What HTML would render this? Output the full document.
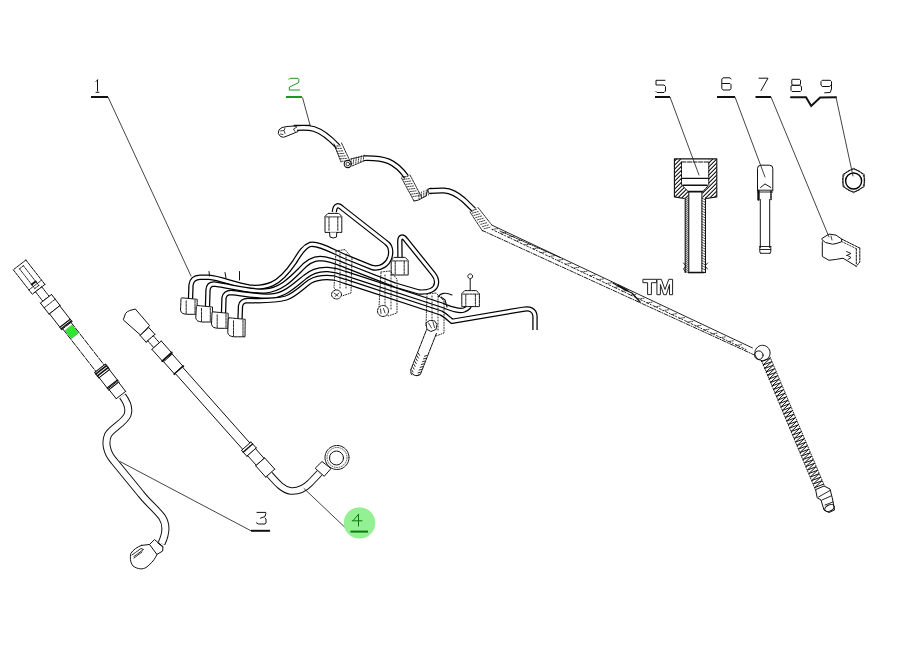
<!DOCTYPE html>
<html><head><meta charset="utf-8"><title>Parts diagram</title>
<style>
html,body{margin:0;padding:0;background:#fff;width:897px;height:672px;overflow:hidden;font-family:"Liberation Sans",sans-serif;}
svg{display:block;}
</style></head><body>
<svg width="897" height="672" viewBox="0 0 897 672">
<rect width="897" height="672" fill="#fff"/>
<g id="parts" fill="none" stroke="#111" stroke-width="1" stroke-linejoin="round" stroke-linecap="round">
<path d="M297.5,125.8 L287,126.5 L282,127.5 L279,129.8 L278.3,133.5 L280.5,136.5 L283.5,137.3 L287,136 L292,134 L298,131.5" stroke="#111"/>
<path d="M280.5,131 L283.5,130.5 M280.5,134 L283,134.5 M285,128 L284,130.5 L285,133.5" stroke="#111" stroke-width="0.8"/>
<path d="M294.3,125.6 L309.9,125.6" stroke="#111" stroke-width="1.6"/>
<path d="M297,127 L293.5,129 L295,131.5" stroke="#111" stroke-width="0.8"/>
<path d="M297,128 C303,127.6 309,127.5 314,129 C322,131.5 330,138 338,146.5" stroke="#000" stroke-width="5.8" fill="none" stroke-linecap="butt" stroke-linejoin="round"/>
<path d="M297,128 C303,127.6 309,127.5 314,129 C322,131.5 330,138 338,146.5" stroke="#fff" stroke-width="3.4" fill="none" stroke-linecap="butt" stroke-linejoin="round"/>
<path d="M334.3,146.2 L340.7,145.8 M335.5,148.7 L341.9,148.3 M336.7,151.3 L343.2,150.8 M337.9,153.8 L344.4,153.3 M339.2,156.3 L345.6,155.8 M340.4,158.8 L346.8,158.4 M341.6,161.3 L348.1,160.9" stroke="#111" stroke-width="0.8" fill="none" stroke-dasharray="1.2 1.2"/>
<path d="M334,144 L341,162 M341.5,143 L349.5,160" stroke="#111" stroke-width="0.9" stroke-dasharray="2 1"/>
<circle cx="347.8" cy="164" r="3.6" stroke="#111" stroke-width="1.1" fill="#fff"/>
<circle cx="347.8" cy="164" r="1.8" stroke="#111" stroke-width="0.8" fill="none"/>
<path d="M350.7,164.4 L351.3,158.6 M353.2,163.8 L353.9,157.9 M355.7,163.1 L356.4,157.2 M358.2,162.4 L358.9,156.5 M360.7,161.7 L361.4,155.9 M363.2,161.1 L363.9,155.2" stroke="#111" stroke-width="0.8" fill="none" stroke-dasharray="1.2 1.2"/>
<path d="M351,159 L364.5,155.8 M352,166 L364.5,160.7" stroke="#111" stroke-width="0.9" stroke-dasharray="2 1"/>
<path d="M364,158.2 C372,158 380,157.8 388.5,161.3 C396,164.5 401.5,170 406.5,177" stroke="#000" stroke-width="5.8" fill="none" stroke-linecap="butt" stroke-linejoin="round"/>
<path d="M364,158.2 C372,158 380,157.8 388.5,161.3 C396,164.5 401.5,170 406.5,177" stroke="#fff" stroke-width="3.4" fill="none" stroke-linecap="butt" stroke-linejoin="round"/>
<path d="M402.0,176.9 L409.0,176.1 M403.4,179.4 L410.3,178.5 M404.8,181.8 L411.7,180.9 M406.1,184.3 L413.1,183.4 M407.5,186.7 L414.4,185.8 M408.9,189.2 L415.8,188.3 M410.2,191.6 L417.2,190.7 M411.6,194.1 L418.5,193.2 M412.9,196.5 L419.9,195.6" stroke="#111" stroke-width="0.8" fill="none" stroke-dasharray="1.2 1.2"/>
<path d="M401.5,178 L414,201 M410,175 L421.5,197" stroke="#111" stroke-width="0.9" stroke-dasharray="2 1"/>
<path d="M414,201 L418.5,200 L426,196 L428,189" stroke="#111" stroke-width="1"/>
<path d="M419.0,199.0 L419.0,193.0 M421.4,198.0 L421.4,192.0 M423.8,197.0 L423.8,191.0 M426.2,196.0 L426.2,190.0 M428.6,195.0 L428.6,189.0 M431.0,194.0 L431.0,188.0" stroke="#111" stroke-width="0.8" fill="none" stroke-dasharray="1.2 1.2"/>
<path d="M429,191 C435,190.6 440,190.4 444,190.5 C452,191 458,195 463.5,199.8 C467,203 470.5,206.5 474,210" stroke="#000" stroke-width="5.8" fill="none" stroke-linecap="butt" stroke-linejoin="round"/>
<path d="M429,191 C435,190.6 440,190.4 444,190.5 C452,191 458,195 463.5,199.8 C467,203 470.5,206.5 474,210" stroke="#fff" stroke-width="3.4" fill="none" stroke-linecap="butt" stroke-linejoin="round"/>
<path d="M470.6,210.9 L477.4,209.1 M472.3,213.2 L479.1,211.3 M474.0,215.4 L480.8,213.5 M475.7,217.6 L482.4,215.8 M477.4,219.9 L484.1,218.0 M479.1,222.1 L485.8,220.2 M480.8,224.3 L487.5,222.5 M482.5,226.6 L489.2,224.7 M484.1,228.8 L490.9,226.9" stroke="#111" stroke-width="0.8" fill="none" stroke-dasharray="1.2 1.2"/>
<path d="M470,212 L482.5,231 M478,207.5 L491.8,225" stroke="#111" stroke-width="0.9" stroke-dasharray="2 1"/>
<path d="M491.8,225.1 L752.4,347.9" stroke="#1a1a1a" stroke-width="0.95"/>
<path d="M482.4,230.5 L753.5,354.6" stroke="#111" stroke-width="0.95" stroke-dasharray="4 1.5 1 1.5"/>
<path d="M492.3,229.4 L497.7,228.6 M500.5,233.3 L505.8,232.5 M508.6,237.1 L513.9,236.3 M516.7,241.0 L522.1,240.2 M524.8,244.9 L530.2,244.1 M533.0,248.7 L538.3,248.0 M541.1,252.6 L546.4,251.8 M549.2,256.5 L554.6,255.7 M557.3,260.3 L562.7,259.6 M565.5,264.2 L570.8,263.4 M573.6,268.1 L578.9,267.3 M581.7,271.9 L587.1,271.2 M589.8,275.8 L595.2,275.0 M598.0,279.7 L603.3,278.9 M606.1,283.5 L611.4,282.8 M614.2,287.4 L619.6,286.6 M622.3,291.3 L627.7,290.5 M630.5,295.1 L635.8,294.4 M638.6,299.0 L644.0,298.2 M646.7,302.9 L652.1,302.1 M654.9,306.8 L660.2,306.0 M663.0,310.6 L668.3,309.8 M671.1,314.5 L676.5,313.7 M679.2,318.4 L684.6,317.6 M687.4,322.2 L692.7,321.4 M695.5,326.1 L700.8,325.3 M703.6,330.0 L709.0,329.2 M711.7,333.8 L717.1,333.1 M719.9,337.7 L725.2,336.9 M728.0,341.6 L733.3,340.8 M736.1,345.4 L741.5,344.7" stroke="#111" stroke-width="0.8" fill="none" stroke-dasharray="1 1.2"/>
<path d="M492,229.5 L748,350.5" stroke="#111" stroke-width="0.9" stroke-dasharray="1 2.2 2 1.8"/>
<path d="M500,231 L560,257.5" stroke="#111" stroke-width="0.9" stroke-dasharray="1.5 1"/>
<path d="M613,283 L625,290 L632,293 L640,302 M618,285 L628,290.5" stroke="#111" stroke-width="1.2"/>
<circle cx="762.5" cy="352.9" r="7.6" stroke="#111" stroke-width="1" fill="#fff" stroke-dasharray="2 0.8"/>
<circle cx="758.8" cy="355.2" r="4.3" stroke="#111" stroke-width="1" fill="none"/>
<path d="M761.4,361.6 L770.3,358.2 L762.9,365.1 L771.8,361.7 L764.4,368.6 L773.3,365.2 L765.9,372.1 L774.7,368.7 L767.4,375.6 L776.2,372.2 L768.8,379.1 L777.7,375.7 L770.3,382.6 L779.2,379.2 L771.8,386.1 L780.7,382.7 L773.3,389.6 L782.1,386.2 L774.7,393.1 L783.6,389.7 L776.2,396.6 L785.1,393.2 L777.7,400.1 L786.6,396.7 L779.2,403.6 L788.0,400.2 L780.7,407.1 L789.5,403.7 L782.1,410.6 L791.0,407.2 L783.6,414.1 L792.5,410.7 L785.1,417.6 L794.0,414.2 L786.6,421.1 L795.4,417.7 L788.1,424.6 L796.9,421.2 L789.5,428.1 L798.4,424.7 L791.0,431.6 L799.9,428.2 L792.5,435.1 L801.4,431.7 L794.0,438.6 L802.8,435.2 L795.4,442.1 L804.3,438.7 L796.9,445.6 L805.8,442.2 L798.4,449.1 L807.3,445.7 L799.9,452.6 L808.8,449.2 L801.4,456.1 L810.2,452.7 L802.8,459.6 L811.7,456.2 L804.3,463.1 L813.2,459.7 L805.8,466.6 L814.7,463.2 L807.3,470.1 L816.1,466.7 L808.8,473.6 L817.6,470.2 L810.2,477.1 L819.1,473.7 L811.7,480.6 L820.6,477.2 L813.2,484.1 L822.1,480.7 L814.7,487.6 L823.5,484.2" stroke="#111" stroke-width="1.0" fill="none"/>
<path d="M761.5,360.5 L815.5,490 M770,357 L824.5,486" stroke="#111" stroke-width="0.9" stroke-dasharray="1 1.5"/>
<path d="M816,489.5 L824,486 L830,489 L832.5,499 L834.5,510 L829,512.5 L824,510 L821,500 L817.5,498 Z" stroke="#111" stroke-width="1" fill="#fff"/>
<path d="M818.5,497 L830,490.5 M822,500 L831,496 M825,505 L833,502" stroke="#111" stroke-width="0.9"/>
<ellipse cx="829.5" cy="508" rx="5" ry="3" transform="rotate(-25 829.5 508)" stroke="#111" stroke-width="1" fill="none"/>
<path d="M643.3,279.3 L656.6,279.3 L656.6,282.7 L651.4,282.7 L651.4,294.6 L647.6,294.6 L647.6,282.7 L643.3,282.7 Z" stroke="#222" stroke-width="1" fill="#fff" stroke-linejoin="miter"/>
<path d="M657.3,279.3 L661.3,279.3 L665,289.5 L668.8,279.3 L672.6,279.3 L672.6,294.7 L669.5,294.7 L669.5,284.5 L666.3,294.7 L663.7,294.7 L660.4,284.5 L660.4,294.7 L657.3,294.7 Z" stroke="#222" stroke-width="1" fill="#fff" stroke-linejoin="miter"/>
<clipPath id="c37"><polygon points="674.4,158.9 681.5,158.9 681.5,184.8 688.7,192 688.7,198.2 684.2,198.2 674.4,196.9"/></clipPath>
<path d="M579.5,200.2 L622.8,156.9 M583.5,200.2 L626.8,156.9 M587.5,200.2 L630.8,156.9 M591.5,200.2 L634.8,156.9 M595.5,200.2 L638.8,156.9 M599.5,200.2 L642.8,156.9 M603.5,200.2 L646.8,156.9 M607.5,200.2 L650.8,156.9 M611.5,200.2 L654.8,156.9 M615.5,200.2 L658.8,156.9 M619.5,200.2 L662.8,156.9 M623.5,200.2 L666.8,156.9 M627.5,200.2 L670.8,156.9 M631.5,200.2 L674.8,156.9 M635.5,200.2 L678.8,156.9 M639.5,200.2 L682.8,156.9 M643.5,200.2 L686.8,156.9 M647.5,200.2 L690.8,156.9 M651.5,200.2 L694.8,156.9 M655.5,200.2 L698.8,156.9 M659.5,200.2 L702.8,156.9 M663.5,200.2 L706.8,156.9 M667.5,200.2 L710.8,156.9 M671.5,200.2 L714.8,156.9 M675.5,200.2 L718.8,156.9 M679.5,200.2 L722.8,156.9 M683.5,200.2 L726.8,156.9 M687.5,200.2 L730.8,156.9 M691.5,200.2 L734.8,156.9 M695.5,200.2 L738.8,156.9" clip-path="url(#c37)" stroke="#111" stroke-width="1.1" fill="none"/>
<clipPath id="c39"><polygon points="708.75,158.9 716.8,158.9 716.8,196.9 706.5,198.2 702.5,198.2 702.5,192 708.75,184.8"/></clipPath>
<path d="M607.6,200.2 L650.9,156.9 M611.6,200.2 L654.9,156.9 M615.6,200.2 L658.9,156.9 M619.6,200.2 L662.9,156.9 M623.6,200.2 L666.9,156.9 M627.6,200.2 L670.9,156.9 M631.6,200.2 L674.9,156.9 M635.6,200.2 L678.9,156.9 M639.6,200.2 L682.9,156.9 M643.6,200.2 L686.9,156.9 M647.6,200.2 L690.9,156.9 M651.6,200.2 L694.9,156.9 M655.6,200.2 L698.9,156.9 M659.6,200.2 L702.9,156.9 M663.6,200.2 L706.9,156.9 M667.6,200.2 L710.9,156.9 M671.6,200.2 L714.9,156.9 M675.6,200.2 L718.9,156.9 M679.6,200.2 L722.9,156.9 M683.6,200.2 L726.9,156.9 M687.6,200.2 L730.9,156.9 M691.6,200.2 L734.9,156.9 M695.6,200.2 L738.9,156.9 M699.6,200.2 L742.9,156.9 M703.6,200.2 L746.9,156.9 M707.6,200.2 L750.9,156.9 M711.6,200.2 L754.9,156.9 M715.6,200.2 L758.9,156.9 M719.6,200.2 L762.9,156.9 M723.6,200.2 L766.9,156.9" clip-path="url(#c39)" stroke="#111" stroke-width="1.1" fill="none"/>
<path d="M674.4,158.9 L716.8,158.9 L716.8,196.9 L706.5,198.5 M674.4,158.9 L674.4,196.9 L684.2,198.5" stroke="#111" stroke-width="1.1" fill="none"/>
<path d="M682,162 L708.75,162" stroke="#111" stroke-width="1" stroke-dasharray="4 1.5"/>
<path d="M681.5,162 L681.5,184.8 L688.7,192 M708.75,162 L708.75,184.8 L702.5,192" stroke="#111" stroke-width="1" stroke-dasharray="3 1"/>
<path d="M682,178.4 L708.5,178.4" stroke="#111" stroke-width="1.1"/>
<path d="M682.9,185.3 L707,185.3" stroke="#111" stroke-width="1.6"/>
<path d="M688.7,191.6 L702.5,191.6" stroke="#111" stroke-width="1.6"/>
<path d="M685.2,198 L685.2,272.6 M688.8,192 L688.8,272.6 L701.9,272.6 L701.9,192 M705.5,198 L705.5,272.6" stroke="#111" stroke-width="1"/>
<path d="M685.2,199.9 L688.8,198.1 M685.2,201.9 L688.8,200.1 M685.2,203.9 L688.8,202.1 M685.2,205.9 L688.8,204.1 M685.2,207.9 L688.8,206.1 M685.2,209.9 L688.8,208.1 M685.2,211.9 L688.8,210.1 M685.2,213.9 L688.8,212.1 M685.2,215.9 L688.8,214.1 M685.2,217.9 L688.8,216.1 M685.2,219.9 L688.8,218.1 M685.2,221.9 L688.8,220.1 M685.2,223.9 L688.8,222.1 M685.2,225.9 L688.8,224.1 M685.2,227.9 L688.8,226.1 M685.2,229.9 L688.8,228.1 M685.2,231.9 L688.8,230.1 M685.2,233.9 L688.8,232.1 M685.2,235.9 L688.8,234.1 M685.2,237.9 L688.8,236.1 M685.2,239.9 L688.8,238.1 M685.2,241.9 L688.8,240.1 M685.2,243.9 L688.8,242.1 M685.2,245.9 L688.8,244.1 M685.2,247.9 L688.8,246.1 M685.2,249.9 L688.8,248.1 M685.2,251.9 L688.8,250.1 M685.2,253.9 L688.8,252.1 M685.2,255.9 L688.8,254.1 M685.2,257.9 L688.8,256.1 M685.2,259.9 L688.8,258.1 M685.2,261.9 L688.8,260.1 M685.2,263.9 L688.8,262.1 M685.2,265.9 L688.8,264.1 M685.2,267.9 L688.8,266.1 M685.2,269.9 L688.8,268.1 M685.2,271.9 L688.8,270.1" stroke="#111" stroke-width="0.8" fill="none"/>
<path d="M701.9,198.1 L705.5,199.9 M701.9,200.7 L705.5,202.5 M701.9,203.3 L705.5,205.1 M701.9,205.9 L705.5,207.7 M701.9,208.5 L705.5,210.3 M701.9,211.1 L705.5,212.9 M701.9,213.7 L705.5,215.5 M701.9,216.3 L705.5,218.1 M701.9,218.9 L705.5,220.7 M701.9,221.5 L705.5,223.3 M701.9,224.1 L705.5,225.9 M701.9,226.7 L705.5,228.5 M701.9,229.3 L705.5,231.1 M701.9,231.9 L705.5,233.7 M701.9,234.5 L705.5,236.3 M701.9,237.1 L705.5,238.9 M701.9,239.7 L705.5,241.5 M701.9,242.3 L705.5,244.1 M701.9,244.9 L705.5,246.7 M701.9,247.5 L705.5,249.3 M701.9,250.1 L705.5,251.9 M701.9,252.7 L705.5,254.5 M701.9,255.3 L705.5,257.1 M701.9,257.9 L705.5,259.7 M701.9,260.5 L705.5,262.3 M701.9,263.1 L705.5,264.9 M701.9,265.7 L705.5,267.5 M701.9,268.3 L705.5,270.1" stroke="#111" stroke-width="0.8" fill="none" stroke-dasharray="1.5 1"/>
<path d="M683.5,263 L686,266 L683.5,269 L686,272.6 M707.5,263 L705,266 L707.5,269" stroke="#111" stroke-width="0.9"/>
<path d="M688.2,272.6 L704.3,272.6" stroke="#111" stroke-width="1.5"/>
<path d="M757.5,190.2 L757.5,168.5 Q757.5,165.2 761,165.2 L769.5,165.2 Q772.8,165.2 772.8,168.5 L772.8,190.2" stroke="#111" stroke-width="1" fill="none"/>
<path d="M760.6,187.5 L765,183.9 L770.8,187.5" stroke="#111" stroke-width="1"/>
<path d="M757.5,190.2 L772.8,190.2 M757.5,192 L772.8,192" stroke="#111" stroke-width="0.9"/>
<path d="M758.5,191 L758.5,199.5" stroke="#111" stroke-width="2.4"/>
<path d="M771,191 L771,199.5" stroke="#111" stroke-width="1.6" stroke-dasharray="1.5 1"/>
<path d="M760.3,199.5 L760.3,247.5 M769.7,199.5 L769.7,247.5" stroke="#111" stroke-width="1"/>
<path d="M759.8,246.5 L770.8,246.5 M759.8,249.5 L770.8,249.5 M760.5,253.3 L770,253.3 M759.8,246.5 L759.8,252 Q760,253.3 761,253.3 M770.8,246.5 L770.8,252 Q770.5,253.3 769.5,253.3" stroke="#111" stroke-width="0.9"/>
<polygon points="864.2,186.6 853.6,192.7 843.0,186.6 843.0,174.4 853.6,168.3 864.2,174.4" stroke="#111" stroke-width="1" fill="none" stroke-linejoin="round" stroke-dasharray="3 0.8"/>
<circle cx="853.6" cy="180.5" r="11" stroke="#111" stroke-width="0.9" fill="none" stroke-dasharray="2 1.5"/>
<circle cx="853.6" cy="181" r="8" stroke="#000" stroke-width="1.4" fill="none"/>
<path d="M822.3,238.3 L829,234.1 L836,235.1 L841.6,239 L841.6,241.8 L836,243.6 L832.5,244.2 L825.5,242.5 L822.3,240 Z" stroke="#111" stroke-width="1" fill="none"/>
<path d="M822.3,241.8 L822.3,256.5 L829,260.3 L836.7,259.3 L843,258.2 L856.3,266.3" stroke="#111" stroke-width="1"/>
<path d="M841.6,239 L859.8,248.1" stroke="#111" stroke-width="1" stroke-dasharray="2 1"/>
<path d="M841.6,241.5 L857,249" stroke="#111" stroke-width="0.8" stroke-dasharray="1.5 1.5"/>
<path d="M856.3,249 L856.3,264 M859.8,248.1 L859.8,262 L856.3,266.3" stroke="#111" stroke-width="1" stroke-dasharray="2 1.2"/>
<path d="M846.5,251.5 L851,253.5 L846.5,255.5 M847.5,255.5 L851,257.5 L848,259.5" stroke="#111" stroke-width="0.9"/>
<path d="M831,236 L832,240" stroke="#111" stroke-width="0.8"/>
<path d="M190.5,299 L191,285 Q192,277.5 200,277.3 L209,277.3 C220,278 235,285 249,287 C258,288 265,287 272,284 C281,280 287,273 294.5,262 C299,255 303,247 310,244.5 C318,243 330,250 345,256.6 L372,267.5 C381,269.5 388,264 390,257 C391.5,251 391,246 386,242.5 L342,208 C339,205 335,204 334.3,212" stroke="#000" stroke-width="5.4" fill="none" stroke-linecap="butt" stroke-linejoin="round"/>
<path d="M190.5,299 L191,285 Q192,277.5 200,277.3 L209,277.3 C220,278 235,285 249,287 C258,288 265,287 272,284 C281,280 287,273 294.5,262 C299,255 303,247 310,244.5 C318,243 330,250 345,256.6 L372,267.5 C381,269.5 388,264 390,257 C391.5,251 391,246 386,242.5 L342,208 C339,205 335,204 334.3,212" stroke="#fff" stroke-width="2.9000000000000004" fill="none" stroke-linecap="butt" stroke-linejoin="round"/>
<path d="M207.5,306 L208,290 Q208.5,284 214,284 C230,286 250,292 265,291 C280,290 290,280 300,270 C306,263 312,258.5 320,258.5 C330,259 338,262.5 345,265.4 L395,285 L419,292 C428,292.5 436,290 436.5,283 C437,279 435.5,276.5 433,273.5 L406,240 C403,235.5 399.5,236 399.8,242 L400,258" stroke="#000" stroke-width="5.4" fill="none" stroke-linecap="butt" stroke-linejoin="round"/>
<path d="M207.5,306 L208,290 Q208.5,284 214,284 C230,286 250,292 265,291 C280,290 290,280 300,270 C306,263 312,258.5 320,258.5 C330,259 338,262.5 345,265.4 L395,285 L419,292 C428,292.5 436,290 436.5,283 C437,279 435.5,276.5 433,273.5 L406,240 C403,235.5 399.5,236 399.8,242 L400,258" stroke="#fff" stroke-width="2.9000000000000004" fill="none" stroke-linecap="butt" stroke-linejoin="round"/>
<path d="M223.5,313 L224,298 Q225,292.5 231,292.5 C245,294 260,297 272,296 C285,295 295,285 305,277 C312,271 320,269 328,269.5 C335,270 340,271.5 345,273.4 L440,304.5 C450,308 458,312 464,310 C468,308.5 470,306 470,303" stroke="#000" stroke-width="5.4" fill="none" stroke-linecap="butt" stroke-linejoin="round"/>
<path d="M223.5,313 L224,298 Q225,292.5 231,292.5 C245,294 260,297 272,296 C285,295 295,285 305,277 C312,271 320,269 328,269.5 C335,270 340,271.5 345,273.4 L440,304.5 C450,308 458,312 464,310 C468,308.5 470,306 470,303" stroke="#fff" stroke-width="2.9000000000000004" fill="none" stroke-linecap="butt" stroke-linejoin="round"/>
<path d="M240,319 L240.5,306 Q241.5,300.5 248,300.5 C262,301 275,301 286,298 C295,295 302,287 310,281.5 C318,277 326,277 334,278 C338,279 342,280.5 345,281.4 L441,313 C446,315.5 449,319 452,321.3 L523,309.3 C530,308 534.5,310 535,316 L535,330" stroke="#000" stroke-width="5.4" fill="none" stroke-linecap="butt" stroke-linejoin="round"/>
<path d="M240,319 L240.5,306 Q241.5,300.5 248,300.5 C262,301 275,301 286,298 C295,295 302,287 310,281.5 C318,277 326,277 334,278 C338,279 342,280.5 345,281.4 L441,313 C446,315.5 449,319 452,321.3 L523,309.3 C530,308 534.5,310 535,316 L535,330" stroke="#fff" stroke-width="2.9000000000000004" fill="none" stroke-linecap="butt" stroke-linejoin="round"/>
<path d="M209,271.5 L209.5,276 M225,272.5 L226,278 M239.5,271.5 L239.5,280" stroke="#111" stroke-width="1"/>
<path d="M181.7,297.8 L197.2,299.3 L197.0,314.3 L186.7,314.3 Q180.7,313.8 180.5,310.3 L181.0,299.0 Z" stroke="#111" stroke-width="1" fill="#fff" stroke-dasharray="3 0.8"/>
<path d="M186.2,300.8 L186.2,313.8 M195.0,300.3 L195.0,313.8" stroke="#111" stroke-width="0.9" stroke-dasharray="2.5 1"/>
<path d="M197,305.5 L212.5,307.0 L212.3,322.0 L202,322.0 Q196,321.5 195.8,318.0 L196.3,306.7 Z" stroke="#111" stroke-width="1" fill="#fff" stroke-dasharray="3 0.8"/>
<path d="M201.5,308.5 L201.5,321.5 M210.3,308.0 L210.3,321.5" stroke="#111" stroke-width="0.9" stroke-dasharray="2.5 1"/>
<path d="M212.7,311.8 L228.2,313.3 L228.0,328.3 L217.7,328.3 Q211.7,327.8 211.5,324.3 L212.0,313.0 Z" stroke="#111" stroke-width="1" fill="#fff" stroke-dasharray="3 0.8"/>
<path d="M217.2,314.8 L217.2,327.8 M226.0,314.3 L226.0,327.8" stroke="#111" stroke-width="0.9" stroke-dasharray="2.5 1"/>
<path d="M229,317.8 L245.2,319.3 L245.0,336.8 L234,336.8 Q228,336.3 227.8,332.8 L228.3,319.0 Z" stroke="#111" stroke-width="1" fill="#fff" stroke-dasharray="3 0.8"/>
<path d="M233.5,320.8 L233.5,336.3 M243.0,320.3 L243.0,336.3" stroke="#111" stroke-width="0.9" stroke-dasharray="2.5 1"/>
<path d="M325,216.4 L328,213.4 L338.8,213.4 L341.8,216.4 L341.8,232.4 L325,232.4 Z" stroke="#111" stroke-width="1" fill="#fff" stroke-dasharray="3 0.8"/>
<path d="M329,217.4 L329,231.4 M337.8,217.4 L337.8,231.4 M326,216.9 L340.8,216.9" stroke="#111" stroke-width="0.9" stroke-dasharray="2.5 1"/>
<path d="M329.5,232.4 L330,237 Q333,239 336.5,237 L336.8,232.4" stroke="#111" stroke-width="1" fill="#fff"/>
<path d="M391.2,260.4 L394.2,257.4 L405.2,257.4 L408.2,260.4 L408.2,275.0 L391.2,275.0 Z" stroke="#111" stroke-width="1" fill="#fff" stroke-dasharray="3 0.8"/>
<path d="M395.2,261.4 L395.2,274.0 M404.2,261.4 L404.2,274.0 M392.2,260.9 L407.2,260.9" stroke="#111" stroke-width="0.9" stroke-dasharray="2.5 1"/>
<path d="M461.8,293.6 L464.8,290.6 L476.40000000000003,290.6 L479.40000000000003,293.6 L479.40000000000003,306.6 L461.8,306.6 Z" stroke="#111" stroke-width="1" fill="#fff" stroke-dasharray="3 0.8"/>
<path d="M465.8,294.6 L465.8,305.6 M475.40000000000003,294.6 L475.40000000000003,305.6 M462.8,294.1 L478.40000000000003,294.1" stroke="#111" stroke-width="0.9" stroke-dasharray="2.5 1"/>
<path d="M470.2,290.6 L470.2,279" stroke="#111" stroke-width="1"/>
<circle cx="470.2" cy="276.3" r="2.4" stroke="#111" stroke-width="1" fill="#fff" stroke-dasharray="1.5 0.8"/>
<polygon points="336,251 345,249.5 352,258 351,293 342,296 334,288" fill="none" stroke="#111" stroke-width="0.9" stroke-dasharray="1 1.6"/>
<polygon points="381,272 390,271 397,279 397,313 388,316 379,307" fill="none" stroke="#111" stroke-width="0.9" stroke-dasharray="1 1.6"/>
<polygon points="427,294 436,293 444,301 444,333 436,336 426,326" fill="none" stroke="#111" stroke-width="0.9" stroke-dasharray="1 1.6"/>
<path d="M340,254 L340,290 M346,254 L346,290" stroke="#111" stroke-width="0.9" stroke-dasharray="1 2" fill="none"/>
<path d="M385,275 L385,311 M391,275 L391,311" stroke="#111" stroke-width="0.9" stroke-dasharray="1 2" fill="none"/>
<path d="M432,296 L432,332 M438,296 L438,332" stroke="#111" stroke-width="0.9" stroke-dasharray="1 2" fill="none"/>
<ellipse cx="336.5" cy="294.5" rx="5" ry="4.5" stroke="#111" stroke-width="1" fill="#fff" stroke-dasharray="2 1"/>
<path d="M334,293 L338,296 M335,296.5 L339,293" stroke="#111" stroke-width="0.8"/>
<ellipse cx="383" cy="311" rx="5.5" ry="5.5" stroke="#111" stroke-width="1" fill="#fff" stroke-dasharray="2 1"/>
<path d="M380.5,309 L381,313.5 M383.5,308.5 L385,313" stroke="#111" stroke-width="0.8"/>
<path d="M438.5,297 C440,293 446,292 452,295 M441,297 L445,300 L447,307" stroke="#111" stroke-width="1.1"/>
<path d="M436.4,333.4 L420.4,374.4 Q413.3,378.1 410.5,370.5 L426.6,329.6" stroke="#111" stroke-width="1" fill="#fff" stroke-dasharray="4 1"/>
<path d="M427.0,355.5 L424.5,356.2" stroke="#111" stroke-width="0.9"/>
<path d="M418.2,353.1 L419.5,355.3" stroke="#111" stroke-width="0.9"/>
<path d="M425.9,358.3 L423.5,358.9" stroke="#111" stroke-width="0.9"/>
<path d="M417.1,355.9 L418.4,358.1" stroke="#111" stroke-width="0.9"/>
<path d="M424.8,361.1 L422.4,361.7" stroke="#111" stroke-width="0.9"/>
<path d="M416.0,358.7 L417.3,360.8" stroke="#111" stroke-width="0.9"/>
<path d="M423.7,363.9 L421.3,364.5" stroke="#111" stroke-width="0.9"/>
<path d="M414.9,361.5 L416.3,363.6" stroke="#111" stroke-width="0.9"/>
<path d="M422.6,366.7 L420.2,367.3" stroke="#111" stroke-width="0.9"/>
<path d="M413.8,364.3 L415.2,366.4" stroke="#111" stroke-width="0.9"/>
<path d="M421.5,369.4 L419.1,370.1" stroke="#111" stroke-width="0.9"/>
<path d="M412.8,367.1 L414.1,369.2" stroke="#111" stroke-width="0.9"/>
<path d="M420.4,372.2 L418.0,372.9" stroke="#111" stroke-width="0.9"/>
<path d="M411.7,369.9 L413.0,372.0" stroke="#111" stroke-width="0.9"/>
<path d="M419.3,375.0 L416.9,375.7" stroke="#111" stroke-width="0.9"/>
<path d="M410.6,372.7 L411.9,374.8" stroke="#111" stroke-width="0.9"/>
<path d="M426,323 L429.5,320.5 L434.5,320.8 L437,324.5 L436,329.5 L431,331.5 L427,329.5 Z" stroke="#111" stroke-width="1" fill="#fff" stroke-dasharray="2 0.8"/>
<path d="M428.5,323 L431.5,328 M433,322 L434.5,327.5" stroke="#111" stroke-width="0.8"/>
<polygon points="25.9,260.0 44.9,284.4 32.3,294.2 13.3,269.8" fill="#fff" stroke="none"/>
<path d="M25.9,260.0 L44.9,284.4 M13.3,269.8 L32.3,294.2 M25.9,260.0 L13.3,269.8 M44.9,284.4 L32.3,294.2" stroke="#111" stroke-width="1" fill="none" stroke-dasharray="3 1"/>
<polygon points="23.4,265.7 38.8,285.4 34.8,288.5 19.5,268.8" fill="none" stroke="none"/>
<path d="M23.4,265.7 L38.8,285.4 M19.5,268.8 L34.8,288.5 M23.4,265.7 L19.5,268.8 M38.8,285.4 L34.8,288.5" stroke="#111" stroke-width="0.9" fill="none" stroke-dasharray="2 1"/>
<path d="M35.7,281.5 L31.7,284.5" stroke="#111" stroke-width="2" fill="none"/>
<path d="M41.6,280.1 L28.9,289.9" stroke="#111" stroke-width="0.9" fill="none" stroke-dasharray="1.5 1"/>
<polygon points="41.8,286.9 49.1,296.3 42.8,301.2 35.5,291.8" fill="#fff" stroke="none"/>
<path d="M41.8,286.9 L49.1,296.3 M35.5,291.8 L42.8,301.2 M41.8,286.9 L35.5,291.8 M49.1,296.3 L42.8,301.2" stroke="#111" stroke-width="1" fill="none" stroke-dasharray="2.5 1"/>
<polygon points="51.5,294.5 60.1,305.5 49.1,314.1 40.5,303.1" fill="#fff" stroke="none"/>
<path d="M51.5,294.5 L60.1,305.5 M40.5,303.1 L49.1,314.1 M51.5,294.5 L40.5,303.1 M60.1,305.5 L49.1,314.1" stroke="#111" stroke-width="1" fill="none"/>
<path d="M55.2,299.2 L44.2,307.8" stroke="#111" stroke-width="0.9" fill="none" stroke-dasharray="3 1"/>
<polygon points="59.7,305.8 72.0,321.6 61.7,329.6 49.5,313.8" fill="#fff" stroke="none"/>
<path d="M59.7,305.8 L72.0,321.6 M49.5,313.8 L61.7,329.6 M59.7,305.8 L49.5,313.8 M72.0,321.6 L61.7,329.6" stroke="#111" stroke-width="1" fill="none"/>
<path d="M70.2,319.3 L59.9,327.2" stroke="#111" stroke-width="1.2" fill="none"/>
<path d="M71.4,320.8 L61.1,328.8" stroke="#111" stroke-width="1.2" fill="none"/>
<polygon points="71.0,322.4 105.4,366.6 97.1,373.0 62.7,328.8" fill="#fff" stroke="none"/>
<path d="M71.0,322.4 L105.4,366.6 M62.7,328.8 L97.1,373.0 M71.0,322.4 L62.7,328.8 M105.4,366.6 L97.1,373.0" stroke="#111" stroke-width="1" fill="none" stroke-dasharray="6 1.5"/>
<polygon points="72.1,325.3 78.2,333.2 71.5,338.5 65.3,330.6" fill="#2ee82e" stroke="#1fb51f" stroke-width="0.6"/>
<polygon points="105.4,364.1 109.6,369.6 99.0,377.9 94.7,372.4" fill="#fff" stroke="none"/>
<path d="M105.4,364.1 L109.6,369.6 M94.7,372.4 L99.0,377.9 M105.4,364.1 L94.7,372.4 M109.6,369.6 L99.0,377.9" stroke="#111" stroke-width="1.1" fill="none"/>
<path d="M106.6,365.7 L95.9,373.9" stroke="#111" stroke-width="1.6" fill="none"/>
<path d="M108.1,367.6 L97.5,375.9" stroke="#111" stroke-width="1.6" fill="none"/>
<polygon points="109.5,369.8 118.0,380.8 107.8,388.8 99.2,377.7" fill="#fff" stroke="none"/>
<path d="M109.5,369.8 L118.0,380.8 M99.2,377.7 L107.8,388.8 M109.5,369.8 L99.2,377.7 M118.0,380.8 L107.8,388.8" stroke="#111" stroke-width="1" fill="none"/>
<path d="M117.4,380.0 L107.2,388.0" stroke="#111" stroke-width="1.2" fill="none"/>
<path d="M119.0,382.0 L108.7,390.0" stroke="#111" stroke-width="1.2" fill="none"/>
<polygon points="118.6,382.3 125.6,391.4 116.2,398.7 109.1,389.7" fill="#fff" stroke="none"/>
<path d="M118.6,382.3 L125.6,391.4 M109.1,389.7 L116.2,398.7 M118.6,382.3 L109.1,389.7 M125.6,391.4 L116.2,398.7" stroke="#111" stroke-width="1" fill="none"/>
<path d="M122.5,396 C127,402 130,408 127.5,415 C124,423 112,428 108,435 C105,442 106,452 114,461 L141,494 C148,503 156,509 162,517 C166,523 167,532 161.5,543.5" stroke="#111" stroke-width="8" fill="none" stroke-linecap="butt" stroke-linejoin="round"/>
<path d="M122.5,396 C127,402 130,408 127.5,415 C124,423 112,428 108,435 C105,442 106,452 114,461 L141,494 C148,503 156,509 162,517 C166,523 167,532 161.5,543.5" stroke="#fff" stroke-width="6" fill="none" stroke-linecap="butt" stroke-linejoin="round"/>
<path d="M141.4,545.4 L149.5,544.5 L154.5,539.6 L163,546.6 L162.6,551.1 L156.9,554.4 C155,559 152,563 146,567.5 C143,569.5 138,569.5 133,566 C130,562 130,557 130.8,553.5 C133,550 137,547 141.4,545.4 Z" stroke="#111" stroke-width="1" fill="#fff"/>
<path d="M149.5,544.5 L156.9,554.4 M157.7,542.9 L162.8,547" stroke="#111" stroke-width="1"/>
<path d="M132,555 L141,548.5 L143.5,549.5 L134,556.5 M134,558 L142,552" stroke="#111" stroke-width="0.9" stroke-dasharray="1.5 0.8"/>
<path d="M123.4,319.5 L125.5,313.5 Q127,311.5 129.5,310.6 L135.3,309 L149.6,325.6 L140.8,334.8 Z" stroke="#111" stroke-width="1" fill="#fff"/>
<polygon points="148.8,327.6 154.9,334.4 146.1,342.2 140.1,335.4" fill="#fff" stroke="none"/>
<path d="M148.8,327.6 L154.9,334.4 M140.1,335.4 L146.1,342.2 M148.8,327.6 L140.1,335.4 M154.9,334.4 L146.1,342.2" stroke="#111" stroke-width="1" fill="none"/>
<polygon points="153.3,335.8 159.4,342.7 153.8,347.7 147.7,340.8" fill="#fff" stroke="none"/>
<path d="M153.3,335.8 L159.4,342.7 M147.7,340.8 L153.8,347.7 M153.3,335.8 L147.7,340.8 M159.4,342.7 L153.8,347.7" stroke="#111" stroke-width="1" fill="none" stroke-dasharray="2 1"/>
<polygon points="161.3,341.0 171.9,353.0 162.6,361.3 151.9,349.3" fill="#fff" stroke="none"/>
<path d="M161.3,341.0 L171.9,353.0 M151.9,349.3 L162.6,361.3 M161.3,341.0 L151.9,349.3 M171.9,353.0 L162.6,361.3" stroke="#111" stroke-width="1" fill="none"/>
<path d="M171.8,352.4 L162.1,361.1" stroke="#111" stroke-width="1.6" fill="none"/>
<polygon points="172.2,354.1 182.8,366.0 174.2,373.7 163.6,361.7" fill="#fff" stroke="none"/>
<path d="M172.2,354.1 L182.8,366.0 M163.6,361.7 L174.2,373.7 M172.2,354.1 L163.6,361.7 M182.8,366.0 L174.2,373.7" stroke="#111" stroke-width="1" fill="none"/>
<path d="M183.4,366.2 L174.4,374.2" stroke="#111" stroke-width="1.8" fill="none"/>
<polygon points="182.8,367.4 251.2,444.5 244.0,450.8 175.6,373.8" fill="#fff" stroke="none"/>
<path d="M182.8,367.4 L251.2,444.5 M175.6,373.8 L244.0,450.8" stroke="#111" stroke-width="1" fill="none"/>
<polygon points="250.9,442.0 256.3,448.0 246.9,456.3 241.6,450.3" fill="#fff" stroke="none"/>
<path d="M250.9,442.0 L256.3,448.0 M241.6,450.3 L246.9,456.3 M250.9,442.0 L241.6,450.3 M256.3,448.0 L246.9,456.3" stroke="#111" stroke-width="1" fill="none"/>
<path d="M252.6,443.9 L243.2,452.2" stroke="#111" stroke-width="1.4" fill="none" stroke-dasharray="2 1"/>
<polygon points="255.5,448.6 264.1,458.4 256.3,465.3 247.6,455.6" fill="#fff" stroke="none"/>
<path d="M255.5,448.6 L264.1,458.4 M247.6,455.6 L256.3,465.3 M255.5,448.6 L247.6,455.6 M264.1,458.4 L256.3,465.3" stroke="#111" stroke-width="1" fill="none"/>
<polygon points="264.7,457.9 274.7,469.1 265.7,477.1 255.7,465.8" fill="#fff" stroke="none"/>
<path d="M264.7,457.9 L274.7,469.1 M255.7,465.8 L265.7,477.1 M264.7,457.9 L255.7,465.8 M274.7,469.1 L265.7,477.1" stroke="#111" stroke-width="1" fill="none"/>
<path d="M269.5,474.5 C277,483 283,490 291,491 C298,491.5 305,488 310,483 L319.5,473" stroke="#111" stroke-width="7.5" fill="none" stroke-linecap="butt" stroke-linejoin="round"/>
<path d="M269.5,474.5 C277,483 283,490 291,491 C298,491.5 305,488 310,483 L319.5,473" stroke="#fff" stroke-width="5.5" fill="none" stroke-linecap="butt" stroke-linejoin="round"/>
<path d="M315.5,468 L322,461.5 L331,468.5 L324.5,476 Z" stroke="#111" stroke-width="1" fill="#fff"/>
<circle cx="337" cy="457.5" r="12" stroke="#111" stroke-width="1" fill="#fff" stroke-dasharray="2 0.8"/>
<circle cx="337" cy="457.5" r="10" stroke="#111" stroke-width="0.7" fill="none" stroke-dasharray="1 1.5"/>
<circle cx="336.5" cy="458" r="7" stroke="#111" stroke-width="1" fill="none"/>
</g>
<!-- LABELS -->
<g fill="none" stroke="#111" stroke-width="1" stroke-linejoin="round" stroke-linecap="round" id="labels">
  <!-- 1 -->
  <path transform="translate(95.5,80)" d="M2,0 L2,11 M0.5,1.5 L2,0 M0.5,12.3 L3.5,12.3"/>
  <path d="M91,97 L108,97" stroke-width="2" stroke-linecap="butt"/>
  <path d="M108,97 L191,276" stroke="#222" stroke-width="0.85"/>
  <!-- 5 -->
  <path transform="translate(655.5,80)" d="M9.5,0.3 L0.5,0.3 L0.5,5 L8.5,5 L10,6.5 L10,11 L8.5,12.5 L1.5,12.5 L0.5,11.5"/>
  <path d="M655,97 L670,97" stroke-width="2" stroke-linecap="butt"/>
  <path d="M670,97 L699,175" stroke="#222" stroke-width="0.85"/>
  <!-- 6 -->
  <path transform="translate(721.5,77.5)" d="M9.5,1.5 L8.5,0.3 L1.5,0.3 L0.3,1.5 L0.3,11 L1.5,12.5 L8.5,12.5 L9.5,11 L9.5,7 L8.5,6 L1,6"/>
  <path d="M717,97 L735,97" stroke-width="2" stroke-linecap="butt"/>
  <path d="M735,97 L765,177" stroke="#222" stroke-width="0.85"/>
  <!-- 7 -->
  <path transform="translate(759,78)" d="M0,0.2 L9,0.2 L2,12.6"/>
  <path d="M755.5,97 L771,97" stroke-width="2" stroke-linecap="butt"/>
  <path d="M771,97 L829,237" stroke="#222" stroke-width="0.85"/>
  <!-- 8 -->
  <path transform="translate(791,79)" d="M1.5,0.3 L8.5,0.3 L9.5,1.3 L9.5,5 L8.5,6.3 L1.5,6.3 L0.8,5 L0.8,1.3 Z M1.5,6.3 L8.5,6.3 L10.5,7.5 L10.5,11.5 L9.5,12.5 L1,12.5 L0,11.5 L0,7.5 Z"/>
  <!-- 9 -->
  <path transform="translate(820.7,80)" d="M10.5,5 L9,6.5 L1.5,6.5 L0.3,5 L0.3,1.5 L1.5,0.3 L9.5,0.3 L10.8,1.5 L10.8,9 L9.5,12.5 L4,12.8"/>
  <path d="M791,97.2 L806,97.2 L811.2,106 L820.2,97.5 L836,97.2" stroke-width="2" stroke-linejoin="miter"/>
  <path d="M836,97.2 L853,176" stroke="#222" stroke-width="0.85"/>
  <!-- 3 -->
  <path transform="translate(256.5,512)" d="M0.5,0.4 L9.3,0.4 L9.3,1.5 L8.5,4.5 L4,6.2 M8.5,6.2 L9.5,7 L9.5,10.9 L8.5,12 L2,12 L0,10.9"/>
  <path d="M251,530.8 L270,530.8" stroke-width="2" stroke-linecap="butt"/>
  <path d="M120,461.5 L251,530.8" stroke="#222" stroke-width="0.85"/>
  <!-- 4 leader -->
  <path d="M304,488.5 L349,531.2" stroke="#222" stroke-width="0.85"/>
</g>
<!-- 2 label green -->
<g fill="none" stroke="#1a9a1a" stroke-width="1" stroke-linejoin="round" stroke-linecap="round">
  <path transform="translate(289,78)" d="M0,1.5 L1,0.3 L9,0.3 L9.8,1.3 L9.8,4 L9,5 L0.5,9 L0.2,12 L10.5,12"/>
  <path d="M286,97 L302,97" stroke-width="2" stroke-linecap="butt"/>
</g>
<path d="M302.5,97.5 L310,125" fill="none" stroke="#222" stroke-width="0.85"/>
<!-- 4 label in circle -->
<circle cx="359.5" cy="522.9" r="15.7" fill="#93f093"/>
<g fill="none" stroke="#0a7a0a" stroke-width="1" stroke-linejoin="round" stroke-linecap="round">
  <path transform="translate(352,514)" d="M6.5,0.3 L1.5,6.2 M0.2,6.8 L10,6.8 M6.5,0.3 L6.5,12"/>
  <path d="M350.5,531.6 L368,531.6" stroke-width="2" stroke-linecap="butt"/>
</g>

</svg>
</body></html>
